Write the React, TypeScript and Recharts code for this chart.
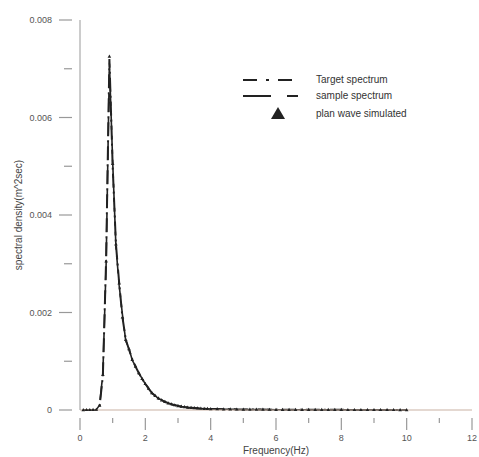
import { LineChart, Line, XAxis, YAxis } from 'recharts'

const freqs = [
  0.1, 0.2, 0.3, 0.4, 0.5, 0.6, 0.7, 0.8, 0.9, 1.0,
  1.1, 1.2, 1.3, 1.4, 1.5, 1.6, 1.7, 1.8, 1.9, 2.0,
  2.1, 2.2, 2.3, 2.4, 2.5, 2.6, 2.7, 2.8, 2.9, 3.0,
  3.1, 3.2, 3.3, 3.4, 3.5, 3.6, 3.7, 3.8, 3.9, 4.0,
  4.2, 4.4, 4.6, 4.8, 5.0, 5.2, 5.4, 5.6, 5.8, 6.0,
  6.2, 6.4, 6.6, 6.8, 7.0, 7.2, 7.4, 7.6, 7.8, 8.0,
  8.2, 8.4, 8.6, 8.8, 9.0, 9.2, 9.4, 9.6, 9.8, 10.0,
]

const target = [
  0, 0, 0, 0, 0.000005, 0.00008, 0.0007, 0.0031, 0.0072, 0.005,
  0.0034, 0.0026, 0.0019, 0.00145, 0.00124, 0.00104, 0.00089, 0.00076, 0.00064, 0.00054,
  0.00044, 0.00035, 0.00029, 0.00024, 0.0002, 0.00017, 0.00014, 0.00012, 0.0001, 0.00008,
  0.00007, 0.00006, 0.00005, 0.000045, 0.00004, 0.000035, 0.00003, 0.000027, 0.000024, 0.000021,
  0.000018, 0.000016, 0.000014, 0.000012, 0.000011, 0.00001, 0.000009, 0.000008, 0.000007, 0.0000065,
  0.000006, 0.0000055, 0.000005, 0.0000045, 0.000004, 0.0000037, 0.0000034, 0.0000031, 0.0000029, 0.0000027,
  0.0000025, 0.0000023, 0.0000021, 0.000002, 0.0000019, 0.0000018, 0.0000017, 0.0000016, 0.0000015, 0.0000014,
]

const sample = [
  0.000002, 0.000001, 0.000003, 0.000002, 0.000008, 0.0001, 0.00075, 0.0030, 0.0071, 0.0051,
  0.00335, 0.00255, 0.00195, 0.00142, 0.00126, 0.00102, 0.0009, 0.00075, 0.00065, 0.00053,
  0.00045, 0.00034, 0.0003, 0.00023, 0.00021, 0.00016, 0.00015, 0.00011, 0.0001, 0.00009,
  0.00007, 0.000065, 0.00005, 0.00004, 0.000042, 0.000033, 0.000031, 0.000026, 0.000025, 0.00002,
  0.000019, 0.000015, 0.000014, 0.000013, 0.00001, 0.00001, 0.000009, 0.000008, 0.000007, 0.000006,
  0.000006, 0.000005, 0.000005, 0.000004, 0.000004, 0.0000035, 0.0000035, 0.000003, 0.000003, 0.0000025,
  0.0000025, 0.000002, 0.000002, 0.000002, 0.000002, 0.0000018, 0.0000017, 0.0000015, 0.0000015, 0.0000014,
]

const simulated = [
  0.000001, 0.000002, 0.000002, 0.000003, 0.000007, 0.00009, 0.00072, 0.00305, 0.00725, 0.00505,
  0.0034, 0.0026, 0.0019, 0.00144, 0.00125, 0.00103, 0.00089, 0.00076, 0.00064, 0.00054,
  0.00044, 0.00035, 0.00029, 0.00024, 0.0002, 0.00017, 0.00014, 0.00012, 0.0001, 0.00008,
  0.00007, 0.00006, 0.00005, 0.000045, 0.00004, 0.000035, 0.00003, 0.000027, 0.000024, 0.000021,
  0.000018, 0.000016, 0.000014, 0.000012, 0.000011, 0.00001, 0.000009, 0.000008, 0.000007, 0.0000065,
  0.000006, 0.0000055, 0.000005, 0.0000045, 0.000004, 0.0000037, 0.0000034, 0.0000031, 0.0000029, 0.0000027,
  0.0000025, 0.0000023, 0.0000021, 0.000002, 0.0000019, 0.0000018, 0.0000017, 0.0000016, 0.0000015, 0.0000014,
]

const xTicks = [0, 1, 2, 3, 4, 5, 6, 7, 8, 9, 10, 11, 12]
const yTicks = [0, 0.001, 0.002, 0.003, 0.004, 0.005, 0.006, 0.007, 0.008]
const legendLabels = ['Target spectrum', 'sample spectrum', 'plan wave simulated']

const data = freqs.map((f, i) => ({
  f,
  target: target[i],
  sample: sample[i],
  simulated: simulated[i],
}))

const FONT = '"Liberation Sans", Arial, sans-serif'
const INK = '#222'

const XTick = (props: any) => {
  const { x, y, payload } = props
  const major = payload.value % 2 === 0
  return (
    <g>
      <line x1={x} x2={x} y1={y} y2={y + (major ? 12 : 5)} stroke="#999" strokeWidth={1.2} />
      {major && (
        <text x={x} y={y + 23} textAnchor="middle" fontSize={9} fill="#555" fontFamily={FONT}>
          {payload.value}
        </text>
      )}
    </g>
  )
}

const YTick = (props: any) => {
  const { x, y, payload } = props
  const idx = Math.round(payload.value * 1000)
  const major = idx % 2 === 0
  return (
    <g>
      <line x1={x} x2={x - (major ? 13 : 8)} y1={y} y2={y} stroke="#999" strokeWidth={1.2} />
      {major && (
        <text x={x - 20} y={y + 3} textAnchor="end" fontSize={9} fill="#555" fontFamily={FONT}>
          {idx === 0 ? '0' : (payload.value as number).toFixed(3)}
        </text>
      )}
    </g>
  )
}

const Triangle = (props: any) => {
  const { cx, cy } = props
  if (cx == null || cy == null) return null
  return <path d={`M${cx},${cy - 2} L${cx + 1.8},${cy + 1.2} L${cx - 1.8},${cy + 1.2} Z`} fill={INK} />
}

const LegendBox = () => (
  <svg width={230} height={60} style={{ position: 'absolute', left: 240, top: 70 }}>
    <line x1={3} x2={58} y1={10} y2={10} stroke={INK} strokeWidth={2} strokeDasharray="14 9 3 9" />
    <line x1={3} x2={58} y1={26} y2={26} stroke={INK} strokeWidth={2} strokeDasharray="28 16" />
    <path d="M38,37 L45,49 L31,49 Z" fill={INK} />
    {legendLabels.map((t, i) => (
      <text key={t} x={76} y={[13, 29, 47][i]} fontSize={10} fill="#333" fontFamily={FONT}>
        {t}
      </text>
    ))}
  </svg>
)

export default function App() {
  return (
    <div style={{ position: 'absolute', left: 0, top: 0, width: 479, height: 457, background: '#fff' }}>
      <LineChart width={479} height={457} data={data} margin={{ top: 20, right: 7, bottom: 0, left: 0 }}>
        <XAxis
          dataKey="f"
          type="number"
          domain={[0, 12]}
          ticks={xTicks}
          tick={<XTick />}
          tickLine={false}
          stroke="#c9b2a4"
          strokeWidth={1.2}
          height={47}
          interval={0}
          label={{ value: 'Frequency(Hz)', position: 'insideBottom', offset: 3, fontSize: 10, fill: '#444', fontFamily: FONT }}
        />
        <YAxis
          type="number"
          domain={[0, 0.008]}
          ticks={yTicks}
          tick={<YTick />}
          tickLine={false}
          stroke="#aaa"
          strokeWidth={1.2}
          width={80}
          interval={0}
          label={{ value: 'spectral density(m^2sec)', angle: -90, position: 'insideLeft', offset: 18, fontSize: 10, fill: '#444', fontFamily: FONT, style: { textAnchor: 'middle' } }}
        />
        <Line
          dataKey="target"
          type="linear"
          stroke={INK}
          strokeWidth={2}
          strokeDasharray="14 4 2 4"
          dot={false}
          isAnimationActive={false}
        />
        <Line
          dataKey="sample"
          type="linear"
          stroke={INK}
          strokeWidth={1.6}
          strokeDasharray="18 6"
          dot={false}
          isAnimationActive={false}
        />
        <Line
          dataKey="simulated"
          type="linear"
          stroke="none"
          dot={<Triangle />}
          isAnimationActive={false}
        />
      </LineChart>
      <LegendBox />
    </div>
  )
}
